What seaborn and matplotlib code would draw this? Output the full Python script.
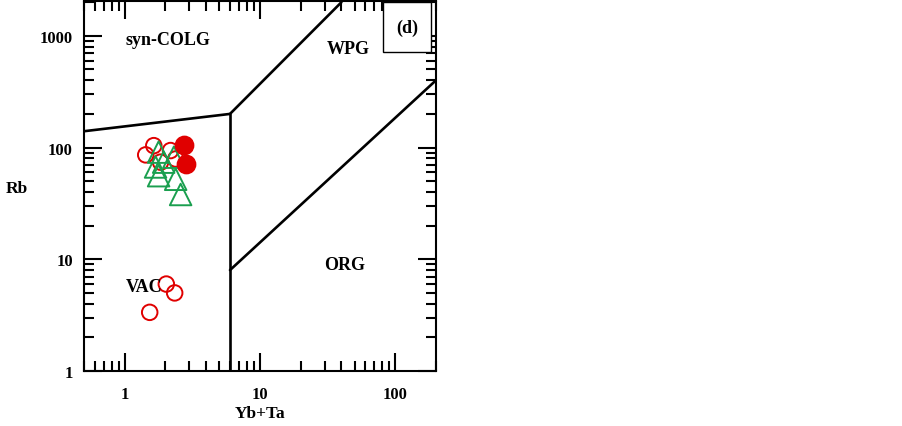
import numpy as np
import pandas as pd
import matplotlib
matplotlib.use("Agg")
import matplotlib.pyplot as plt
import seaborn as sns
from matplotlib.patches import Rectangle

# data
open_x = [1.43, 1.64, 2.18, 1.84, 2.38, 2.03, 2.34, 1.53]
open_y = [86, 104, 94, 74, 79, 6.0, 5.0, 3.35]
filled_x = [2.74, 2.82]
filled_y = [105, 71]
tri_x = [1.78, 2.31, 1.94, 1.69, 1.78, 2.38, 2.59]
tri_y = [91, 82, 74, 67, 56, 52, 38]

# discrimination boundaries
colg_x, colg_y = [0.5, 6], [140, 200]
wpg_x, wpg_y = [6, 40], [200, 2000]
vac_x, vac_y = [6, 6], [1, 200]
org_x, org_y = [6, 200], [8, 400]

regions = ["syn-COLG", "WPG", "ORG", "VAC"]
region_x = [2.08, 45, 42, 1.38]
region_y = [919, 763, 8.9, 5.65]

xticks = [1, 10, 100]
yticks = [1, 10, 100, 1000]

sns.set_style("ticks")
plt.rcParams["font.family"] = ["Liberation Serif", "DejaVu Serif"]
plt.rcParams["font.weight"] = "bold"
plt.rcParams["text.color"] = "black"
plt.rcParams["axes.labelcolor"] = "black"
plt.rcParams["xtick.color"] = "black"
plt.rcParams["ytick.color"] = "black"
plt.rcParams["axes.edgecolor"] = "black"
plt.rcParams["xtick.direction"] = "in"
plt.rcParams["ytick.direction"] = "in"

red = "#e00000"
green = "#1a9f4f"

fig = plt.figure(figsize=(9.03, 4.27), dpi=100)
ax = fig.add_axes([84 / 903, 55 / 427, 352 / 903, 370 / 427])

sns.scatterplot(x=open_x, y=open_y, marker="o", s=125, facecolor="none",
                edgecolor=red, linewidth=1.4, ax=ax, zorder=3)
sns.scatterplot(x=tri_x, y=tri_y, marker="^", s=240, facecolor="none",
                edgecolor=green, linewidth=1.4, ax=ax, zorder=4)
sns.scatterplot(x=filled_x, y=filled_y, marker="o", s=175, color=red,
                edgecolor=red, linewidth=1, ax=ax, zorder=5)

for lx, ly in [(colg_x, colg_y), (wpg_x, wpg_y), (vac_x, vac_y), (org_x, org_y)]:
    ax.plot(lx, ly, color="black", lw=1.9, zorder=2)

for name, tx, ty in zip(regions, region_x, region_y):
    ax.text(tx, ty, name, ha="center", va="center", fontsize=13, fontweight="bold")

ax.set_xscale("log")
ax.set_yscale("log")
ax.set_xlim(0.5, 200)
ax.set_ylim(1, 2050)
ax.set_xticks(xticks)
ax.set_xticklabels([str(v) for v in xticks])
ax.set_yticks(yticks)
ax.set_yticklabels([str(v) for v in yticks])
ax.xaxis.set_minor_locator(matplotlib.ticker.LogLocator(base=10, subs=np.arange(2, 10)))
ax.yaxis.set_minor_locator(matplotlib.ticker.LogLocator(base=10, subs=np.arange(2, 10)))
ax.xaxis.set_minor_formatter(matplotlib.ticker.NullFormatter())
ax.yaxis.set_minor_formatter(matplotlib.ticker.NullFormatter())
ax.tick_params(which="both", direction="in", top=True, right=True,
               bottom=True, left=True, color="black", width=1.5)
ax.tick_params(which="major", length=13, labelsize=12)
ax.tick_params(which="minor", length=7)
ax.tick_params(axis="x", which="major", pad=11)
ax.tick_params(axis="y", which="major", pad=8)
for lab in ax.get_xticklabels() + ax.get_yticklabels():
    lab.set_fontweight("bold")
for sp in ax.spines.values():
    sp.set_linewidth(1.5)
    sp.set_color("black")

ax.set_xlabel("Yb+Ta", fontsize=12.5, fontweight="bold", labelpad=2)
ax.set_ylabel("Rb", fontsize=12.5, fontweight="bold", rotation=0, ha="center", va="center")
ax.yaxis.set_label_coords(-0.19, 0.495)

box = Rectangle((0.849, 0.862), 0.137, 0.135, transform=ax.transAxes,
                facecolor="white", edgecolor="black", lw=1, zorder=10, clip_on=False)
ax.add_patch(box)
ax.text(0.9175, 0.93, "(d)", transform=ax.transAxes, ha="center", va="center",
        fontsize=13, fontweight="bold", zorder=11)

fig.savefig("out.png", dpi=100, facecolor="white")
